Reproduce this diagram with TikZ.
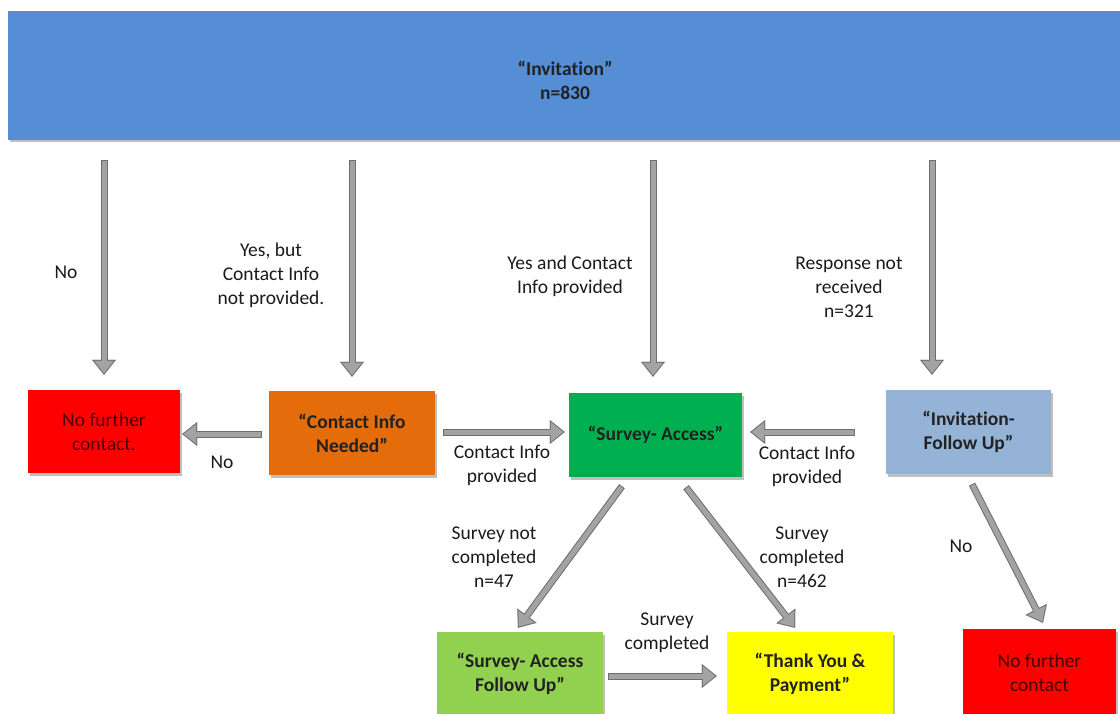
\documentclass[tikz,border=0pt]{standalone}
\usepackage{fontspec}
\setmainfont{Carlito}[Ligatures=NoCommon]
\usetikzlibrary{arrows.meta,calc,shadows}
\definecolor{barblue}{HTML}{558ED5}
\definecolor{orangebox}{HTML}{E46C0A}
\definecolor{greenbox}{HTML}{00B050}
\definecolor{lightbluebox}{HTML}{95B3D7}
\definecolor{limebox}{HTML}{92D050}
\definecolor{yellowbox}{HTML}{FFFF00}
\definecolor{redbox}{HTML}{FF0000}
\definecolor{redtext}{HTML}{4A0000}
\definecolor{boxtext}{HTML}{222222}
\definecolor{lbltext}{HTML}{1A1A1A}
\definecolor{arrowout}{HTML}{6E6E6E}
\definecolor{arrowfill}{HTML}{A3A3A3}
\tikzset{
  shadowed/.style={drop shadow={shadow xshift=1.5pt, shadow yshift=-2.5pt, opacity=0.25, fill=black}},
  box/.style={shadowed, draw=none, inner sep=0pt, align=center, text=boxtext,
    font=\fontsize{19.5}{24}\selectfont\bfseries},
  stopbox/.style={box, fill=redbox, text=redtext, font=\fontsize{19.5}{24}\selectfont},
  lbl/.style={align=center, text=lbltext, inner sep=0pt, font=\fontsize{19.5}{24}\selectfont},
  flow/.style={draw=arrowout, line width=7pt,
    -{Triangle[length=15pt,width=24pt,line width=0.01pt]},
    postaction={draw=arrowfill, line width=5pt, shorten >=1.6pt, shorten <=1pt,
      -{Triangle[length=12.4pt,width=19.8pt,line width=0.01pt]}}}
}
\begin{document}
\begin{tikzpicture}[x=1pt,y=-1pt]
\useasboundingbox (0,0) rectangle (1120,714);
% top bar
\node[box, fill=barblue, minimum width=1120pt, minimum height=129pt] (top) at (568,75.5) {};
\node[lbl, font=\fontsize{19.5}{24}\selectfont\bfseries, text=boxtext] (toptext) at (565,80) {“Invitation”\\n=830};
% boxes
\node[stopbox, minimum width=152pt, minimum height=83pt] (nf1) at (104,431.5) {No further\\contact.};
\node[box, fill=orangebox, minimum width=166pt, minimum height=84pt] (cin) at (352,433) {“Contact Info\\Needed”};
\node[box, fill=greenbox, minimum width=173pt, minimum height=84pt] (sa) at (655.5,435) {“Survey- Access”};
\node[box, fill=lightbluebox, minimum width=165pt, minimum height=84pt] (ifu) at (968.5,432) {“Invitation-\\Follow Up”};
\node[box, fill=limebox, minimum width=166pt, minimum height=84pt] (safu) at (520,674) {“Survey- Access\\Follow Up”};
\node[box, fill=yellowbox, minimum width=166pt, minimum height=84pt] (typ) at (810,674) {“Thank You \&\\Payment”};
\node[stopbox, minimum width=153pt, minimum height=88pt] (nf2) at (1039.5,673) {No further\\contact};
% connectors
\draw[flow] ($(top.south -| nf1.north)+(0,20)$) -- ($(nf1.north)+(0,-15)$);
\draw[flow] ($(top.south -| cin.north)+(0,20)$) -- ($(cin.north)+(0,-14)$);
\draw[flow] ($(top.south -| sa.north)+(-2.5,20)$) -- ($(sa.north)+(-2.5,-16)$);
\draw[flow] ($(top.south -| ifu.north)+(-36.5,20)$) -- ($(ifu.north)+(-36.5,-15)$);
\draw[flow] ($(cin.west)+(-7,1)$) -- ($(nf1.east)+(2,2.5)$);
\draw[flow] ($(cin.east)+(8,-1)$) -- ($(sa.west)+(-4,-3)$);
\draw[flow] ($(ifu.west)+(-31,0)$) -- ($(sa.east)+(8,-3)$);
\draw[flow] ($(sa.south)+(-33.5,9)$) -- ($(safu.north)+(-2,-4)$);
\draw[flow] ($(sa.south)+(30.5,10)$) -- ($(typ.north)+(-15,-4)$);
\draw[flow] ($(safu.east)+(5,2)$) -- ($(typ.west)+(-10,2)$);
\draw[flow] ($(ifu.south)+(3.5,10)$) -- ($(nf2.north)+(3.5,-6)$);
% labels
\node[lbl] (l1) at (66,272) {No};
\node[lbl] (l2) at (271,275) {Yes, but\\Contact Info\\not provided.};
\node[lbl] (l3) at (570,276) {Yes and Contact\\Info provided};
\node[lbl] (l4) at (849,287) {Response not\\received\\n=321};
\node[lbl] (l5) at (222,462) {No};
\node[lbl] (l6) at (502,465) {Contact Info\\provided};
\node[lbl] (l7) at (807,466) {Contact Info\\provided};
\node[lbl] (l8) at (494,557) {Survey not\\completed\\n=47};
\node[lbl] (l9) at (802,557) {Survey\\completed\\n=462};
\node[lbl] (l10) at (667,633) {Survey\\completed};
\node[lbl] (l11) at (961,546) {No};
\end{tikzpicture}
\end{document}
